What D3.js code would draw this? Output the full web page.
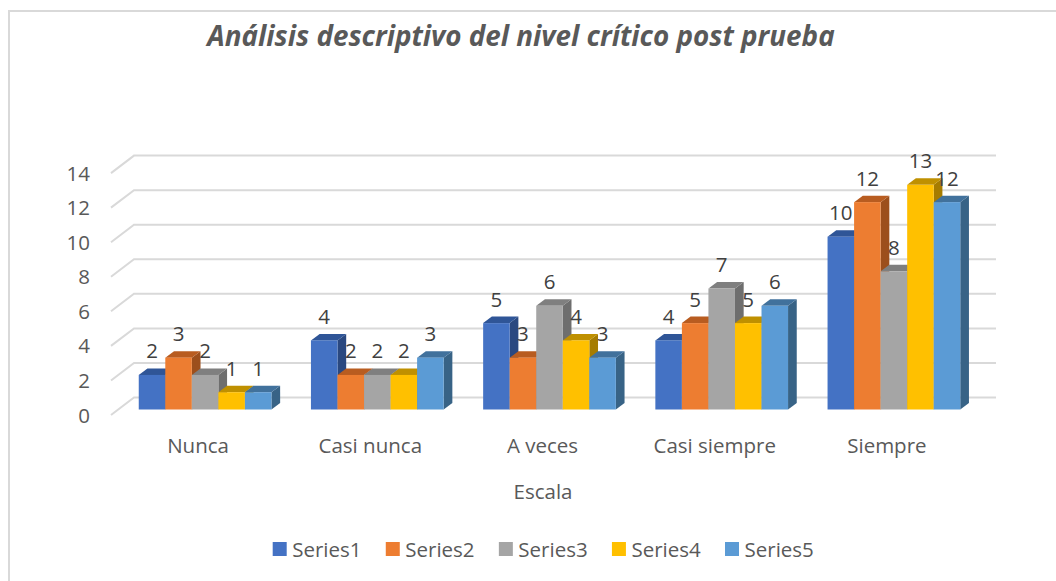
<!DOCTYPE html>
<html><head><meta charset="utf-8">
<script src="https://cdn.jsdelivr.net/npm/d3@7"></script>
<style>html,body{margin:0;padding:0;background:#fff;overflow:hidden}svg{display:block}text{font-family:"Open Sans",sans-serif}</style>
</head><body><svg id="c" width="1056" height="581"></svg>
<script>
const categories = ["Nunca","Casi nunca","A veces","Casi siempre","Siempre"];
const seriesNames = ["Series1","Series2","Series3","Series4","Series5"];
const series1 = [2,4,5,4,10];
const series2 = [3,2,3,5,12];
const series3 = [2,2,6,7,8];
const series4 = [1,2,4,5,13];
const series5 = [1,3,3,6,12];
const allSeries = [series1,series2,series3,series4,series5];
const colors = ["#4472c4","#ed7d31","#a5a5a5","#ffc000","#5b9bd5"];
const topColors = ["#2f5597","#b85c20","#7f7f7f","#bf9000","#41719c"];
const sideColors = ["#2a4880","#9c4f1c","#6e6e6e","#a67c00","#386386"];
const yTicks = [0,2,4,6,8,10,12,14];
const title = "Análisis descriptivo del nivel crítico post prueba";
const xTitle = "Escala";

const svg = d3.select("#c");
const dx = 8.7, dy = 6.5;
const wallDx = 23, wallDy = 17.5;
const baseFront = 409.5;
const y = d3.scaleLinear().domain([0,14]).range([baseFront, baseFront-14*17.28]);
const x0 = d3.scaleBand().domain(categories).range([119,980]);
const x1 = d3.scaleBand().domain(d3.range(5)).range([19.75, x0.bandwidth()-19.75]);

// frame: the top and left edges are the only ones inside the crop
svg.append("path").attr("fill","none").attr("stroke","#d9d9d9").attr("stroke-width",2)
  .attr("d",d3.line()([[9,581],[9,11],[1056,11]]));

// grid
const gy = v => y(v)+5.5;
const grid = svg.append("g").attr("fill","none").attr("stroke","#d9d9d9").attr("stroke-width",2);
yTicks.forEach(t=>{
  grid.append("path").attr("d",d3.line()([[111,gy(t)],[111+wallDx,gy(t)-wallDy],[996,gy(t)-wallDy]]));
});
// y labels
svg.append("g").selectAll("text").data(yTicks).join("text")
  .attr("x",90).attr("text-anchor","end").attr("y",t=>gy(t)+7.5)
  .attr("font-size",20.5).attr("fill","#595959").text(t=>t);

// bars
const g = svg.append("g");
categories.forEach((c,ci)=>{
  allSeries.forEach((s,si)=>{
    const v = s[ci];
    const l = x0(c)+x1(si), w = x1.bandwidth(), r = l+w, t = y(v), b = y(0);
    const bar = g.append("g");
    bar.append("path").attr("fill",sideColors[si])
      .attr("d",d3.line()([[r,t],[r+dx,t-dy],[r+dx,b-dy],[r,b]])+"Z");
    bar.append("path").attr("fill",topColors[si])
      .attr("d",d3.line()([[l,t],[l+dx,t-dy],[r+dx,t-dy],[r,t]])+"Z");
    bar.append("rect").attr("x",l).attr("y",t).attr("width",w).attr("height",b-t).attr("fill",colors[si]);
  });
});
// labels on top
const labels = svg.append("g");
categories.forEach((c,ci)=>{
  allSeries.forEach((s,si)=>{
    labels.append("text").attr("x",x0(c)+x1(si)+x1.bandwidth()/2)
      .attr("y",y(s[ci])-16.5).attr("text-anchor","middle")
      .attr("font-size",20.5).attr("fill","#404040").text(s[ci]);
  });
});
// category labels
svg.append("g").selectAll("text").data(categories).join("text")
  .attr("x",c=>x0(c)+x0.bandwidth()/2-7).attr("y",453).attr("text-anchor","middle")
  .attr("font-size",20.5).attr("fill","#595959").text(c=>c);
svg.append("text").attr("x",543).attr("y",499).attr("text-anchor","middle")
  .attr("font-size",20.5).attr("fill","#595959").text(xTitle);
svg.append("text").attr("x",521).attr("y",46).attr("text-anchor","middle")
  .attr("font-size",27.8).attr("font-weight",700).attr("font-style","italic").attr("fill","#595959").text(title);
// legend
const lx = d3.scalePoint().domain(seriesNames).range([272.7,725]);
const leg = svg.append("g").selectAll("g").data(seriesNames).join("g")
  .attr("transform",d=>`translate(${lx(d)},542)`);
leg.append("rect").attr("width",14).attr("height",14).attr("fill",(d,i)=>colors[i]);
leg.append("text").attr("x",19.5).attr("y",14.5).attr("font-size",20.5).attr("fill","#595959").text(d=>d);
</script></body></html>
